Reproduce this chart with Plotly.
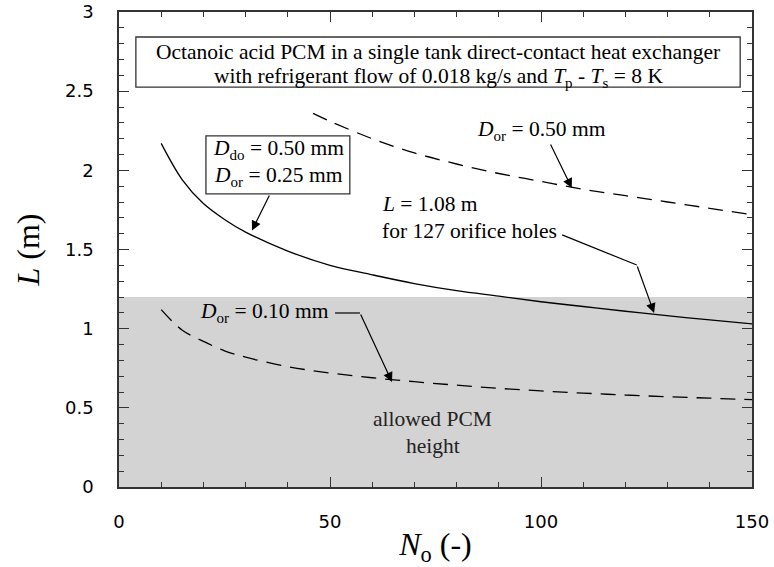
import plotly.graph_objects as go

# Data
n_solid = [10, 15, 20, 25, 30, 40, 50, 60, 70, 80, 90, 100, 110, 120, 127, 140, 150]
L_solid = [2.17, 1.94, 1.79, 1.69, 1.61, 1.49, 1.40, 1.34, 1.285, 1.24, 1.205, 1.17, 1.14, 1.11, 1.09, 1.055, 1.03]

n_dor050 = [46, 50, 60, 70, 80, 90, 100, 110, 120, 130, 140, 150]
L_dor050 = [2.36, 2.31, 2.20, 2.11, 2.04, 1.98, 1.93, 1.88, 1.84, 1.80, 1.76, 1.72]

n_dor010 = [10, 15, 20, 25, 30, 40, 50, 60, 70, 80, 90, 100, 110, 120, 130, 140, 150]
L_dor010 = [1.12, 0.99, 0.92, 0.86, 0.82, 0.76, 0.72, 0.69, 0.665, 0.643, 0.623, 0.607, 0.593, 0.581, 0.570, 0.561, 0.552]

allowed_height = 1.2
x_ticks = [0, 50, 100, 150]
y_ticks = [0, 0.5, 1, 1.5, 2, 2.5, 3]

SERIF = "Liberation Serif"
SANS = "DejaVu Sans"
FS = 21.5

fig = go.Figure()

fig.add_shape(type="rect", xref="x", yref="y", x0=0, x1=150, y0=0, y1=allowed_height,
              fillcolor="#d3d3d3", line=dict(width=0), layer="below")

fig.add_trace(go.Scatter(x=n_solid, y=L_solid, mode="lines", line=dict(color="black", width=1.3, shape="spline"), showlegend=False))
fig.add_trace(go.Scatter(x=n_dor050, y=L_dor050, mode="lines", line=dict(color="black", width=1.3, dash="15px,9px", shape="spline"), showlegend=False))
fig.add_trace(go.Scatter(x=n_dor010, y=L_dor010, mode="lines", line=dict(color="black", width=1.3, dash="15px,9px", shape="spline"), showlegend=False))

# boxes
fig.add_shape(type="rect", x0=4.0, x1=147.2, y0=2.525, y1=2.842, fillcolor="white",
              line=dict(color="#333", width=1.3), layer="above")
fig.add_shape(type="rect", x0=20.6, x1=54.7, y0=1.851, y1=2.217, fillcolor="white",
              line=dict(color="#333", width=1.3), layer="above")
# leader lines
fig.add_shape(type="line", x0=105.0, y0=1.592, x1=122.7, y1=1.402, line=dict(color="black", width=1.2))
fig.add_shape(type="line", x0=51.2, y0=1.099, x1=57.1, y1=1.099, line=dict(color="black", width=1.2))

def txt(x, y, s, xanchor="center", color="black"):
    return dict(x=x, y=y, xanchor=xanchor, yanchor="middle", text=s, showarrow=False,
                font=dict(family=SERIF, size=FS, color=color))

def arrow(x, y, ax, ay):
    return dict(x=x, y=y, ax=ax, ay=ay, axref="x", ayref="y", text="", showarrow=True,
                arrowhead=2, arrowsize=1.6, arrowwidth=1.2, arrowcolor="black")

ann = [
    txt(75.6, 2.745, "Octanoic acid PCM in a single tank direct-contact heat exchanger"),
    txt(75.6, 2.585, "with refrigerant flow of 0.018 kg/s and <i>T</i><sub>p</sub> - <i>T</i><sub>s</sub> = 8 K"),
    txt(37.7, 2.130, "<i>D</i><sub>do</sub> = 0.50 mm"),
    txt(37.7, 1.960, "<i>D</i><sub>or</sub> = 0.25 mm"),
    arrow(31.5, 1.62, 35.8, 1.851),
    txt(100.2, 2.250, "<i>D</i><sub>or</sub> = 0.50 mm"),
    arrow(107.3, 1.888, 102.1, 2.173),
    txt(61.8, 1.785, "<i>L</i> = 1.08 m", xanchor="left"),
    txt(61.8, 1.615, "for 127 orifice holes", xanchor="left"),
    arrow(126.8, 1.099, 122.7, 1.402),
    txt(34.4, 1.100, "<i>D</i><sub>or</sub> = 0.10 mm"),
    arrow(64.7, 0.663, 57.1, 1.099),
    txt(74.4, 0.428, "allowed PCM", color="#222"),
    txt(74.4, 0.258, "height", color="#222"),
]
fig.update_layout(annotations=ann)

fig.update_xaxes(range=[0, 150], tickvals=x_ticks, ticks="inside", ticklen=10, tickwidth=1.2,
                 tickcolor="#333", showline=True, linecolor="#333", linewidth=1.5, mirror="ticks",
                 showgrid=False, zeroline=False, ticklabelstandoff=18,
                 minor=dict(ticks="inside", dtick=10, ticklen=5, tickcolor="#333", tickwidth=1.2, showgrid=False),
                 tickfont=dict(family=SANS, size=18, color="black"),
                 title=dict(text="<i>N</i><sub>o</sub> (-)", font=dict(family=SERIF, size=32, color="black"), standoff=4))
fig.update_yaxes(range=[0, 3], tickvals=y_ticks, ticks="inside", ticklen=10, tickwidth=1.2,
                 tickcolor="#333", showline=True, linecolor="#333", linewidth=1.5, mirror="ticks",
                 showgrid=False, zeroline=False, ticklabelstandoff=20,
                 minor=dict(ticks="inside", dtick=0.1, ticklen=5, tickcolor="#333", tickwidth=1.2, showgrid=False),
                 tickfont=dict(family=SANS, size=18, color="black"),
                 title=dict(text="<i>L</i> (m)", font=dict(family=SERIF, size=32, color="black"), standoff=16))

fig.update_layout(width=774, height=567, margin=dict(l=119, r=22, t=12, b=80, autoexpand=False),
                  plot_bgcolor="white", paper_bgcolor="white")

fig.write_html("out.html", config={"displayModeBar": False},
               post_script="document.body.style.margin='0px';")
